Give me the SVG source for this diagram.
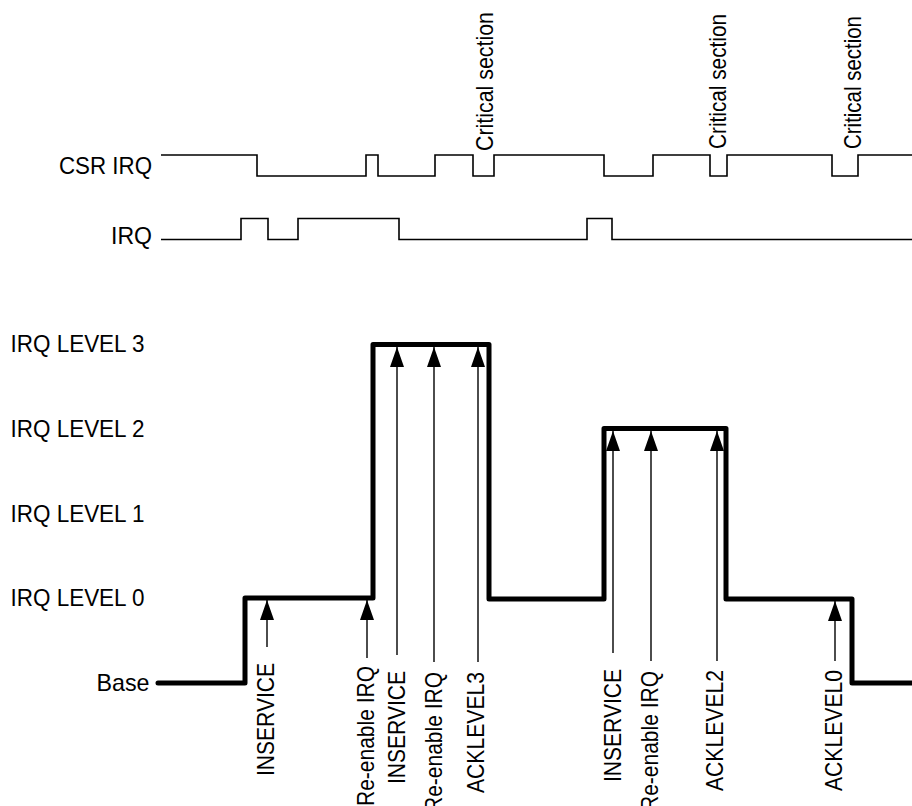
<svg xmlns="http://www.w3.org/2000/svg" width="912" height="806" viewBox="0 0 912 806">
<style>
  text { font-family: "Liberation Sans", Arial, sans-serif; font-size: 24px; fill: #000; }
  .wave { fill: none; stroke: #000; stroke-width: 1.6; }
  .level { fill: none; stroke: #000; stroke-width: 5; stroke-linejoin: round; stroke-linecap: round; }
  .arr { stroke: #000; stroke-width: 1.4; fill: none; marker-end: url(#ah); }
</style>
<defs>
  <marker id="ah" viewBox="0 0 20 14" refX="20" refY="7" markerWidth="20" markerHeight="14" orient="auto" markerUnits="userSpaceOnUse">
    <path d="M0,0 L20,7 L0,14 z" fill="#000"/>
  </marker>
</defs>
<rect width="912" height="806" fill="#fff"/>

<g id="labels-left">
  <text x="152" y="174" text-anchor="end" textLength="93" lengthAdjust="spacingAndGlyphs">CSR IRQ</text>
  <text x="152" y="244" text-anchor="end" textLength="41" lengthAdjust="spacingAndGlyphs">IRQ</text>
  <text x="10.5" y="352" textLength="134" lengthAdjust="spacingAndGlyphs">IRQ LEVEL 3</text>
  <text x="10.5" y="437" textLength="134" lengthAdjust="spacingAndGlyphs">IRQ LEVEL 2</text>
  <text x="10.5" y="522" textLength="134" lengthAdjust="spacingAndGlyphs">IRQ LEVEL 1</text>
  <text x="10.5" y="606" textLength="134" lengthAdjust="spacingAndGlyphs">IRQ LEVEL 0</text>
  <text x="149.5" y="691" text-anchor="end" textLength="53" lengthAdjust="spacingAndGlyphs">Base</text>
</g>

<g id="csr-irq">
  <path class="wave" d="M161,155 H257 V176 H366 V155 H378 V176 H435 V155 H473 V176 H494 V155 H604 V176 H653 V155 H710 V176 H727 V155 H832 V176 H858 V155 H912"/>
  <text transform="translate(493,151) rotate(-90)" textLength="139" lengthAdjust="spacingAndGlyphs">Critical section</text>
  <text transform="translate(726,149) rotate(-90)" textLength="135" lengthAdjust="spacingAndGlyphs">Critical section</text>
  <text transform="translate(861,149) rotate(-90)" textLength="133" lengthAdjust="spacingAndGlyphs">Critical section</text>
</g>

<g id="irq">
  <path class="wave" d="M161,239.5 H241 V218.5 H268 V239.5 H298 V218.5 H399 V239.5 H587 V218.5 H612 V239.5 H912"/>
</g>

<g id="irq-level">
  <path class="level" d="M158,683 H245 V598 H373 V344.5 H489 V599 H604 V428.5 H726 V599 H852 V683 H912"/>
</g>

<g id="connectors">
  <line class="arr" x1="267" y1="647" x2="267" y2="600"/>
  <line class="arr" x1="367" y1="658" x2="367" y2="600"/>
  <line class="arr" x1="397" y1="655" x2="397" y2="347"/>
  <line class="arr" x1="434" y1="662" x2="434" y2="347"/>
  <line class="arr" x1="478" y1="662" x2="478" y2="347"/>
  <line class="arr" x1="613" y1="653" x2="613" y2="431"/>
  <line class="arr" x1="651" y1="661" x2="651" y2="431"/>
  <line class="arr" x1="717" y1="661" x2="717" y2="431"/>
  <line class="arr" x1="835" y1="661" x2="835" y2="601"/>
</g>

<g id="event-labels">
  <text transform="translate(274,663) rotate(-90)" text-anchor="end" textLength="113" lengthAdjust="spacingAndGlyphs">INSERVICE</text>
  <text transform="translate(374,666) rotate(-90)" text-anchor="end" textLength="140" lengthAdjust="spacingAndGlyphs">Re-enable IRQ</text>
  <text transform="translate(405,671) rotate(-90)" text-anchor="end" textLength="113" lengthAdjust="spacingAndGlyphs">INSERVICE</text>
  <text transform="translate(442,672) rotate(-90)" text-anchor="end" textLength="140" lengthAdjust="spacingAndGlyphs">Re-enable IRQ</text>
  <text transform="translate(484,672) rotate(-90)" text-anchor="end" textLength="121" lengthAdjust="spacingAndGlyphs">ACKLEVEL3</text>
  <text transform="translate(621,669) rotate(-90)" text-anchor="end" textLength="113" lengthAdjust="spacingAndGlyphs">INSERVICE</text>
  <text transform="translate(658,671) rotate(-90)" text-anchor="end" textLength="140" lengthAdjust="spacingAndGlyphs">Re-enable IRQ</text>
  <text transform="translate(723,670) rotate(-90)" text-anchor="end" textLength="121" lengthAdjust="spacingAndGlyphs">ACKLEVEL2</text>
  <text transform="translate(842,670) rotate(-90)" text-anchor="end" textLength="121" lengthAdjust="spacingAndGlyphs">ACKLEVEL0</text>
</g>
</svg>
